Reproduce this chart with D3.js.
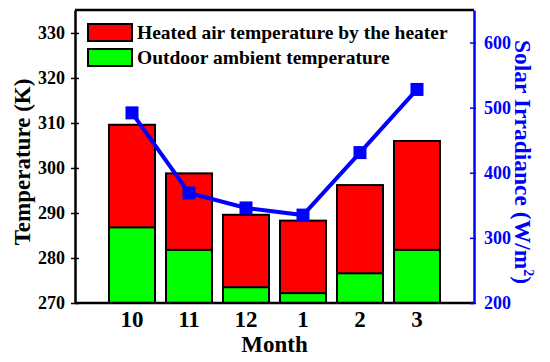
<!DOCTYPE html>
<html lang="en">
<head>
<meta charset="UTF-8">
<title>Temperature and Solar Irradiance</title>
<script src="https://d3js.org/d3.v7.min.js"></script>
<style>
  body { margin: 0; background: #fff; }
  text { font-family: "Liberation Serif", "Times New Roman", serif; font-weight: bold; }
</style>
</head>
<body>
<svg id="chart" width="550" height="362"></svg>
<script>
// data
var months = ["10", "11", "12", "1", "2", "3"];
var heated = [309.6, 298.8, 289.6, 288.3, 296.2, 306.0];
var outdoor = [286.8, 281.8, 273.5, 272.2, 276.6, 281.8];
var irradiance = [492, 369, 346, 335, 431, 528];
var tempTicks = [270, 280, 290, 300, 310, 320, 330];
var solarTicks = [200, 300, 400, 500, 600];

var svg = d3.select("#chart");
var mLeft = 75, mRight = 474, mTop = 10, mBottom = 303;
var blue = "#0000ff";

var x = d3.scalePoint().domain(months).range([mLeft, mRight]).padding(1);
var yT = d3.scaleLinear().domain([270, 335.1]).range([mBottom, mTop]);
var yS = d3.scaleLinear().domain([200, 650]).range([mBottom, mTop]);
var barW = 46;

// bars: heated (red) behind, outdoor (green) in front
svg.selectAll(".heated").data(months).enter().append("rect")
    .attr("x", d => x(d) - barW / 2)
    .attr("y", (d, i) => yT(heated[i]))
    .attr("width", barW)
    .attr("height", (d, i) => yT(270) - yT(heated[i]))
    .attr("fill", "#ff0000").attr("stroke", "#000").attr("stroke-width", 2);

svg.selectAll(".outdoor").data(months).enter().append("rect")
    .attr("x", d => x(d) - barW / 2)
    .attr("y", (d, i) => yT(outdoor[i]))
    .attr("width", barW)
    .attr("height", (d, i) => yT(270) - yT(outdoor[i]))
    .attr("fill", "#00ff00").attr("stroke", "#000").attr("stroke-width", 2);

// frame
svg.append("line").attr("x1", mLeft).attr("x2", mRight).attr("y1", mTop).attr("y2", mTop)
    .attr("stroke", "#000").attr("stroke-width", 2.5);
svg.append("line").attr("x1", mLeft).attr("x2", mRight).attr("y1", mBottom).attr("y2", mBottom)
    .attr("stroke", "#000").attr("stroke-width", 2.5);

// left axis
var la = svg.append("g").attr("transform", "translate(" + mLeft + ",0)")
    .call(d3.axisLeft(yT).tickValues(tempTicks).tickSizeInner(4).tickSizeOuter(0).tickPadding(6));
la.select(".domain").attr("stroke", "#000").attr("stroke-width", 2.5);
la.selectAll(".tick line").attr("stroke", "#000").attr("stroke-width", 1.5).attr("x1", 4);
la.selectAll("text").attr("font-size", 18).attr("fill", "#000")
    .style("font-family", "Liberation Serif").style("font-weight", "bold");

// right axis
var ra = svg.append("g").attr("transform", "translate(" + mRight + ",0)")
    .call(d3.axisRight(yS).tickValues(solarTicks).tickSizeInner(4).tickSizeOuter(0).tickPadding(6));
ra.select(".domain").attr("stroke", blue).attr("stroke-width", 2.5);
ra.selectAll(".tick line").attr("stroke", blue).attr("stroke-width", 1.5).attr("x1", -4).attr("x2", 2);
ra.selectAll("text").attr("font-size", 18).attr("fill", blue)
    .style("font-family", "Liberation Serif").style("font-weight", "bold");

// month labels
svg.selectAll(".mlab").data(months).enter().append("text")
    .attr("x", d => x(d)).attr("y", 327)
    .attr("text-anchor", "middle").attr("font-size", 23).text(d => d);

svg.append("text").attr("x", (mLeft + mRight) / 2).attr("y", 352)
    .attr("text-anchor", "middle").attr("font-size", 23).text("Month");

svg.append("text")
    .attr("transform", "translate(30," + 162 + ") rotate(-90)")
    .attr("text-anchor", "middle").attr("font-size", 23).text("Temperature (K)");

var rt = svg.append("text")
    .attr("transform", "translate(515," + 162 + ") rotate(90)")
    .attr("text-anchor", "middle").attr("font-size", 23.5).attr("fill", blue);
rt.append("tspan").text("Solar Irradiance (W/m");
rt.append("tspan").attr("font-size", 14).attr("dy", -9).text("2");
rt.append("tspan").attr("dy", 9).text(")");

// irradiance line
var line = d3.line().x(d => x(d.m)).y(d => yS(d.v));
var pts = months.map((m, i) => ({ m: m, v: irradiance[i] }));
svg.append("path").datum(pts).attr("d", line)
    .attr("fill", "none").attr("stroke", blue).attr("stroke-width", 4);
svg.selectAll(".pt").data(pts).enter().append("rect")
    .attr("x", d => x(d.m) - 6.5).attr("y", d => yS(d.v) - 6.5)
    .attr("width", 13).attr("height", 13).attr("fill", blue);

// legend
var legend = [["Heated air temperature by the heater", "#ff0000"],
              ["Outdoor ambient temperature", "#00ff00"]];
var lg = svg.selectAll(".lg").data(legend).enter().append("g")
    .attr("transform", (d, i) => "translate(88," + (24 + i * 25) + ")");
lg.append("rect").attr("width", 44).attr("height", 17)
    .attr("fill", d => d[1]).attr("stroke", "#000").attr("stroke-width", 2);
lg.append("text").attr("x", 49).attr("y", 15).attr("font-size", 19.5).text(d => d[0]);
</script>
</body>
</html>
